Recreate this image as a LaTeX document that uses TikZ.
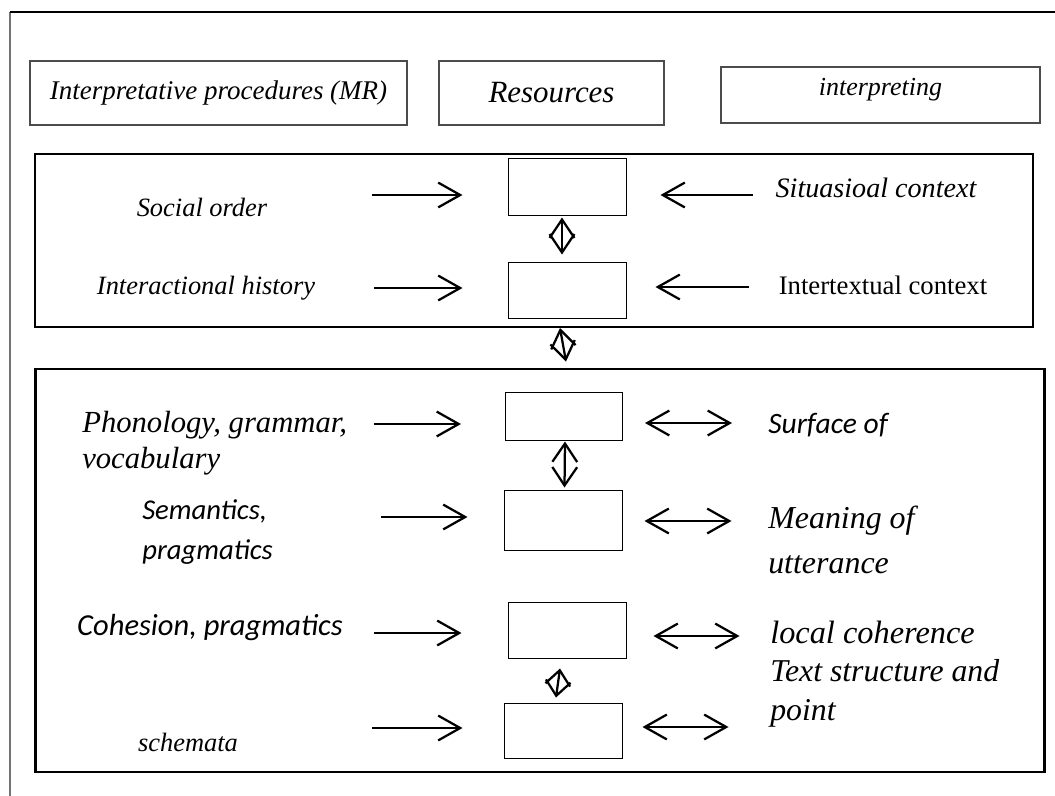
\documentclass[tikz,border=0pt]{standalone}
\usepackage{fontspec}
\setmainfont{Liberation Serif}
\newfontfamily\calfont{Carlito}
\usetikzlibrary{arrows.meta,positioning}

\begin{document}
\begin{tikzpicture}[x=0.025cm, y=-0.025cm,
		hdbox/.style={draw=black!70, line width=0.8pt, inner sep=0pt, minimum height=1.6cm},
		slot/.style={draw, line width=0.7pt, minimum width=2.925cm, minimum height=#1},
		feed/.style={-{Straight Barb[length=5.5mm,width=6.2mm]}, line width=1.6pt},
		both/.style={{Straight Barb[length=5.5mm,width=6.2mm]}-{Straight Barb[length=5.5mm,width=6.2mm]}, line width=1.6pt},
		twin/.style={{Straight Barb[length=#1,width=6.2mm]}-{Straight Barb[length=#1,width=6.2mm]}, line width=1.6pt},
		lbl/.style={inner sep=0pt, font=\fontsize{18.8}{22}\selectfont\itshape},
		big/.style={inner sep=0pt, align=left, font=\fontsize{22.6}{28}\selectfont\itshape},
		cal/.style={inner sep=0pt, align=left, font=\calfont\fontsize{21}{28.5}\selectfont\itshape}]
	\useasboundingbox (0,0) rectangle (1055,796);

	% page frame
	\draw[black!55, line width=1.2pt] (10,796) -- (10,12);
	\draw[line width=1.2pt] (10,12) -- (1055,12);

	% headings
	\node[hdbox, minimum width=9.425cm, font=\fontsize{19.2}{22}\selectfont\itshape] (proc) at (218.5,93) {Interpretative procedures (MR)};
	\node[hdbox, minimum width=5.625cm, font=\fontsize{22}{26}\selectfont\itshape] (res) at (551.5,93) {Resources};
	\node[hdbox, minimum width=7.975cm, minimum height=1.4cm, text height=0.3cm, text depth=0.3cm,
		font=\fontsize{18.5}{22}\selectfont\itshape] (interp) at (880.5,95) {interpreting};

	% the two frames
	\node[draw, line width=1.4pt, minimum width=24.95cm, minimum height=4.325cm] (upper) at (534,240.5) {};
	\node[draw, line width=2pt, minimum width=25.2cm, minimum height=10.075cm] (lower) at (540,570.5) {};

	% slots
	\node[slot=1.425cm] (s1) at (567.5,186.5) {};
	\node[slot=1.4cm] (s2) at (567.5,290) {};
	\node[slot=1.2cm] (s3) at (564,416) {};
	\node[slot=1.5cm] (s4) at (563.5,520) {};
	\node[slot=1.4cm] (s5) at (567.5,630) {};
	\node[slot=1.375cm] (s6) at (563.5,730.5) {};

	% left column
	\node[lbl] (social) at (202,207) {Social order};
	\node[lbl] (hist) at (206,288) {Interactional history};
	\node[big, anchor=west, font=\fontsize{21.8}{25.6}\selectfont\itshape] (phon) at (82,443) {Phonology, grammar,\\vocabulary};
	\node[cal, anchor=west, font=\calfont\fontsize{20.4}{28.5}\selectfont\itshape] (sem) at (142,532) {Semantics,\\pragmatics};
	\node[cal, font=\calfont\fontsize{21.7}{26}\selectfont\itshape] (coh) at (210,628) {Cohesion, pragmatics};
	\node[lbl] (schem) at (188,742) {schemata};

	% right column
	\node[lbl, font=\fontsize{20}{24}\selectfont\itshape] (situ) at (876,188) {Situasioal context};
	\node[lbl, font=\fontsize{19}{24}\selectfont] (inter) at (883,285) {Intertextual context};
	\node[cal, anchor=west] (surf) at (768,425) {Surface of};
	\node[big, anchor=west, font=\fontsize{22.7}{32}\selectfont\itshape] (mean) at (768,540) {Meaning of\\utterance};
	\node[big, anchor=west, font=\fontsize{23}{28}\selectfont\itshape] (local) at (770,632) {local coherence};
	\node[big, anchor=west, font=\fontsize{22.6}{27.7}\selectfont\itshape] (struct) at (770,693) {Text structure and\\point};

	% into the slots
	\draw[feed] ([shift={(-136,8.5)}]s1.west) -- ([shift={(-46,8.5)}]s1.west);
	\draw[feed] ([shift={(-134,-2)}]s2.west) -- ([shift={(-46,-2)}]s2.west);
	\draw[feed] ([shift={(-131,8)}]s3.west) -- ([shift={(-44,8)}]s3.west);
	\draw[feed] ([shift={(-123,-3)}]s4.west) -- ([shift={(-37,-3)}]s4.west);
	\draw[feed] ([shift={(-134,3)}]s5.west) -- ([shift={(-47,3)}]s5.west);
	\draw[feed] ([shift={(-132,-2.5)}]s6.west) -- ([shift={(-42,-2.5)}]s6.west);
	\draw[feed] ([shift={(126,8.5)}]s1.east) -- ([shift={(34,8.5)}]s1.east);
	\draw[feed] ([shift={(122,-3)}]s2.east) -- ([shift={(29,-3)}]s2.east);

	% two way
	\draw[both] ([shift={(22,7)}]s3.east) -- ([shift={(109,7)}]s3.east);
	\draw[both] ([shift={(22,1)}]s4.east) -- ([shift={(109,1)}]s4.east);
	\draw[both] ([shift={(27,6)}]s5.east) -- ([shift={(113,6)}]s5.east);
	\draw[both] ([shift={(20,-3.5)}]s6.east) -- ([shift={(106,-3.5)}]s6.east);

	% between slots
	\draw[twin=4.6mm] ([shift={(-5.5,2)}]s1.south) -- ([shift={(-5.5,-7)}]s2.north);
	\draw[twin=4.4mm] ([shift={(26,0)}]upper.south) -- ([shift={(26,-6)}]lower.north);
	\draw[twin=4.6mm] ([shift={(1,1)}]s3.south) -- ([shift={(1,-2)}]s4.north);
	\draw[twin=3.7mm] ([shift={(-7.5,10)}]s5.south) -- ([shift={(-7.5,-5)}]s6.north);
\end{tikzpicture}
\end{document}
